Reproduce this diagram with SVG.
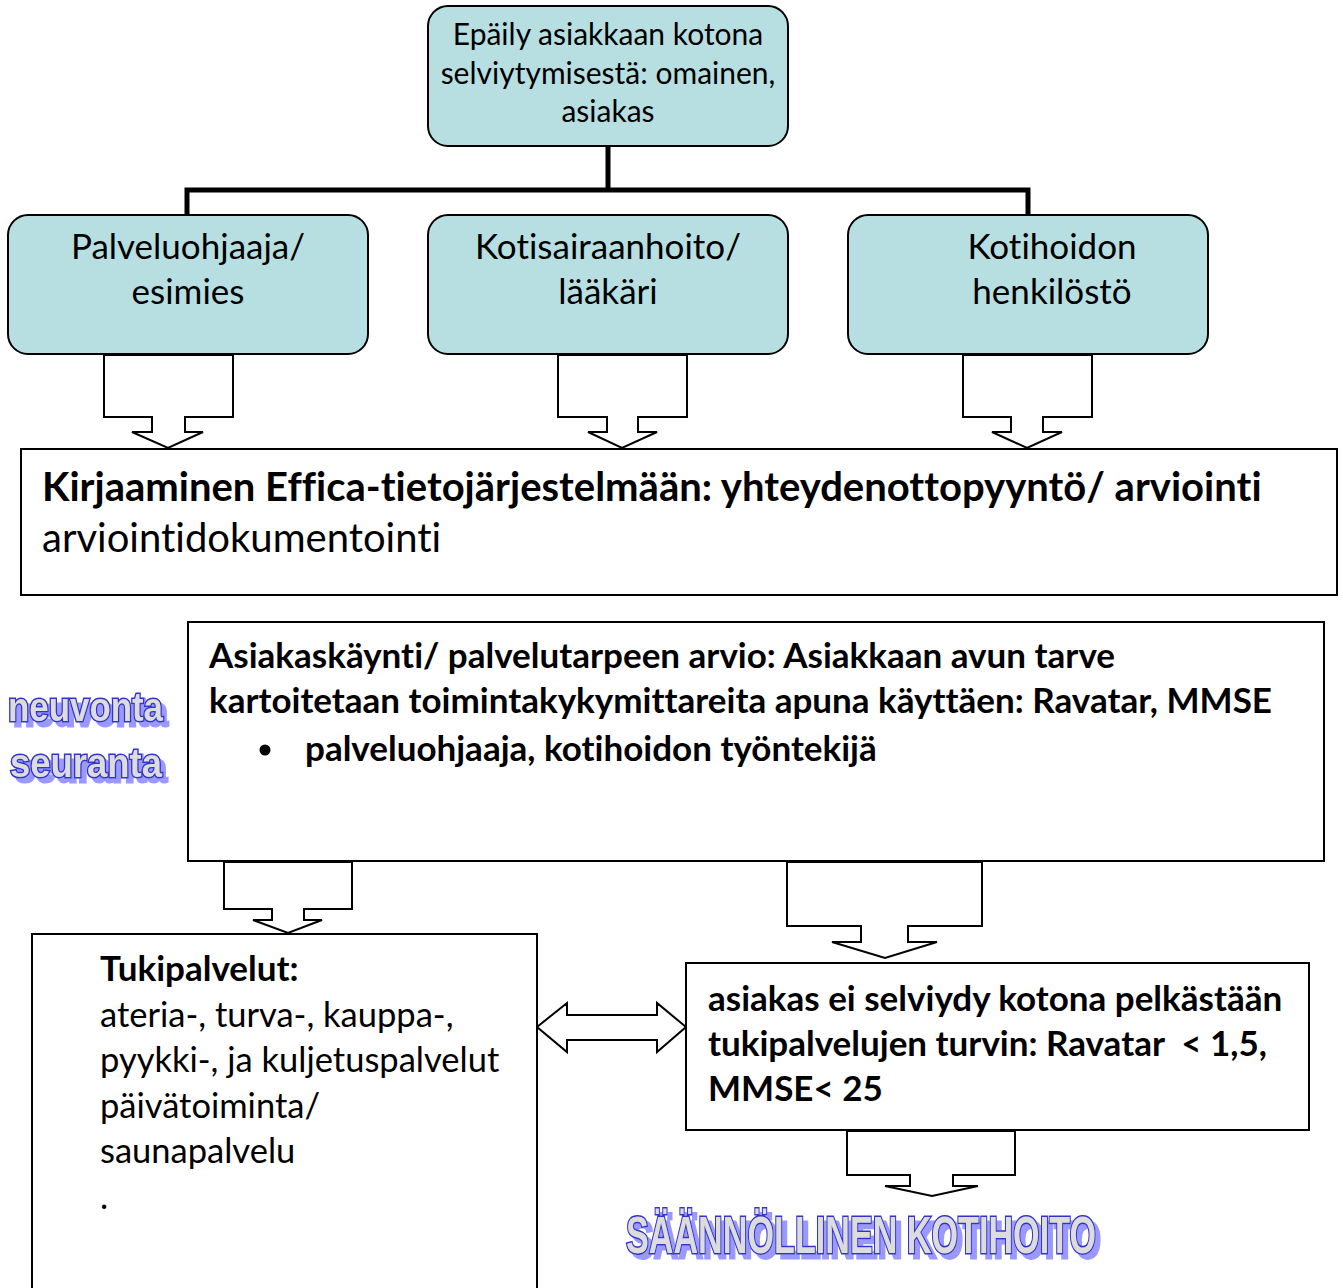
<svg xmlns="http://www.w3.org/2000/svg" width="1343" height="1288" viewBox="0 0 1343 1288">
<defs>
<filter id="wshadow" x="-10%" y="-20%" width="130%" height="160%">
<feOffset in="SourceAlpha" dx="5" dy="5" result="o"/>
<feFlood flood-color="#9999ff"/>
<feComposite in2="o" operator="in" result="s"/>
<feMerge><feMergeNode in="s"/><feMergeNode in="SourceGraphic"/></feMerge>
</filter>
</defs>
<style>
.tb{fill:#b7dfe2;stroke:#000;stroke-width:2}
.bx{fill:#fff;stroke:#000;stroke-width:2}
.ba{fill:#fff;stroke:#000;stroke-width:2;stroke-linejoin:miter}
.t{font-family:Lato,"Open Sans","Liberation Sans",sans-serif;fill:#000;font-variant-ligatures:none}
.c{text-anchor:middle}
.b{font-weight:bold}
.wa{font-family:"Liberation Sans",Arial,sans-serif;font-weight:bold;fill:#dcdcdc;stroke:#3333cc;stroke-width:3;paint-order:stroke;filter:url(#wshadow)}
</style>
<rect width="1343" height="1288" fill="#fff"/>
<g id="connectors" fill="none" stroke="#000" stroke-width="5">
<path d="M608 146V190M187 217V190H1028V217"/>
</g>
<g id="n-top">
<rect class="tb" x="428" y="6" width="360" height="140" rx="20"/>
<text class="t c" x="608" y="45" font-size="30">Epäily asiakkaan kotona</text>
<text class="t c" x="608" y="84" font-size="30">selviytymisestä: omainen,</text>
<text class="t c" x="608" y="122" font-size="30">asiakas</text>
</g>
<g id="n-palvelu">
<rect class="tb" x="8" y="215" width="360" height="139" rx="20"/>
<text class="t c" x="188" y="259" font-size="35">Palveluohjaaja/</text>
<text class="t c" x="188" y="304" font-size="35">esimies</text>
</g>
<g id="n-koti">
<rect class="tb" x="428" y="215" width="360" height="139" rx="20"/>
<text class="t c" x="608" y="259" font-size="35">Kotisairaanhoito/</text>
<text class="t c" x="608" y="304" font-size="35">lääkäri</text>
</g>
<g id="n-kotihoito">
<rect class="tb" x="848" y="215" width="360" height="139" rx="20"/>
<text class="t c" x="1052" y="259" font-size="35">Kotihoidon</text>
<text class="t c" x="1052" y="304" font-size="35">henkilöstö</text>
</g>
<g id="arrows">
<path class="ba" d="M104 355H233V417H185V432H203L168 448L132 432H152V417H104Z"/>
<path class="ba" d="M558 355H687V417H638V432H657L622 448L588 432H607V417H558Z"/>
<path class="ba" d="M963 355H1092V417H1043V432H1062L1027 448L992 432H1011V417H963Z"/>
<path class="ba" d="M224 862H352V909H304V920H322L288 933L253 920H272V909H224Z"/>
<path class="ba" d="M787 862H982V926H908V942H937L885 958L832 942H861V926H787Z"/>
<path class="ba" d="M847 1131H1015V1175H953V1186H978L932 1196L885 1186H910V1175H847Z"/>
<path class="ba" d="M537 1027L567 1003V1015H657V1003L686 1027L657 1052V1040H567V1052Z"/>
</g>
<g id="n-kirjaaminen">
<rect class="bx" x="21" y="449" width="1316" height="146"/>
<text class="t b" x="42" y="501" font-size="40">Kirjaaminen Effica-tietojärjestelmään: yhteydenottopyyntö/ arviointi</text>
<text class="t" x="42" y="552" font-size="40">arviointidokumentointi</text>
</g>
<g id="n-asiakaskaynti">
<rect class="bx" x="188" y="622" width="1136" height="239"/>
<text class="t b" x="209" y="668" font-size="35">Asiakaskäynti/ palvelutarpeen arvio: Asiakkaan avun tarve</text>
<text class="t b" x="209" y="713" font-size="35">kartoitetaan toimintakykymittareita apuna käyttäen: Ravatar, MMSE</text>
<circle cx="265" cy="750" r="5.5" fill="#000"/>
<text class="t b" x="305" y="761" font-size="35">palveluohjaaja, kotihoidon työntekijä</text>
</g>
<g id="n-tukipalvelut">
<rect class="bx" x="32" y="934" width="505" height="360"/>
<text class="t b" x="100" y="981" font-size="35">Tukipalvelut:</text>
<text class="t" x="100" y="1027" font-size="34.5">ateria-, turva-, kauppa-,</text>
<text class="t" x="100" y="1072" font-size="34.5">pyykki-, ja kuljetuspalvelut</text>
<text class="t" x="100" y="1118" font-size="34.5">päivätoiminta/</text>
<text class="t" x="100" y="1163" font-size="34.5">saunapalvelu</text>
<text class="t" x="100" y="1209" font-size="34.5">.</text>
</g>
<g id="n-eiselviydy">
<rect class="bx" x="686" y="963" width="623" height="167"/>
<text class="t b" x="708" y="1011" font-size="35">asiakas ei selviydy kotona pelkästään</text>
<text class="t b" x="708" y="1056" font-size="35" xml:space="preserve">tukipalvelujen turvin: Ravatar  &lt; 1,5,</text>
<text class="t b" x="708" y="1101" font-size="35">MMSE&lt; 25</text>
</g>
<g id="n-neuvonta">
<text class="wa" x="8" y="721" font-size="40" textLength="155" lengthAdjust="spacingAndGlyphs">neuvonta</text>
<text class="wa" x="10" y="777" font-size="40" textLength="152" lengthAdjust="spacingAndGlyphs">seuranta</text>
</g>
<g id="n-saannollinen">
<text class="wa" x="626" y="1253" font-size="51" textLength="470" lengthAdjust="spacingAndGlyphs">SÄÄNNÖLLINEN KOTIHOITO</text>
</g>
</svg>
